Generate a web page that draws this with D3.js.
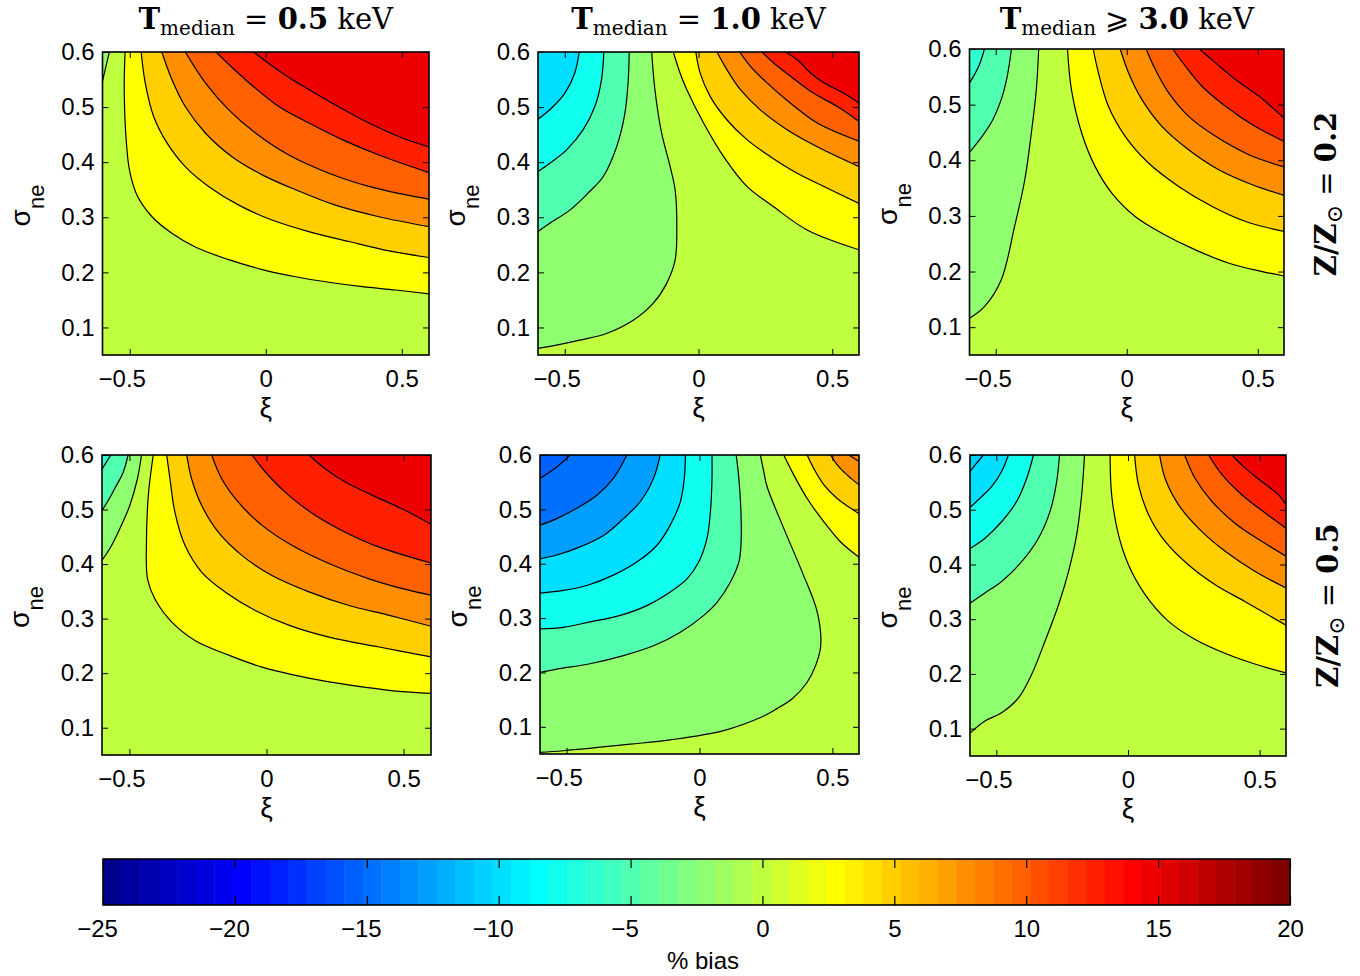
<!DOCTYPE html>
<html><head><meta charset="utf-8">
<script src="https://cdn.jsdelivr.net/npm/d3@7"></script>
<style>body{margin:0;background:#fff}svg{display:block}</style>
</head><body>
<svg id="chart" width="1360" height="976"></svg>
<script>
// ---------------- data ----------------
const xiDomain = [-0.6, 0.6];
const sigmaDomain = [0.05, 0.6];
const xiTicks = [-0.5, 0, 0.5];
const sigmaTicks = [0.1, 0.2, 0.3, 0.4, 0.5, 0.6];
const temperatureLabels = ["0.5", "1.0", "3.0"];
const temperatureRelations = ["=", "=", "\u2A7E"];
const metallicityLabels = ["0.2", "0.5"];
const colorbarDomain = [-25, 20];
const colorbarTicks = [-25, -20, -15, -10, -5, 0, 5, 10, 15, 20];
const baseLevel = 0; // % bias of the background region (0 .. 2.5)

// contour lines: lv = % bias of the enclosed region, pts = [xi, sigma]
const contoursT05Z02 = [
  {lv: -2.5, pts: [[-0.575,0.6],[-0.590,0.568],[-0.6,0.547]]},
  {lv: 2.5, pts: [[-0.517,0.6],[-0.520,0.550],[-0.519,0.501],[-0.513,0.441],[-0.501,0.386],[-0.474,0.341],[-0.418,0.301],[-0.345,0.271],[-0.259,0.246],[-0.136,0.223],[-0.013,0.205],[0.109,0.192],[0.232,0.182],[0.355,0.174],[0.477,0.168],[0.6,0.161]]},
  {lv: 5, pts: [[-0.458,0.6],[-0.443,0.544],[-0.412,0.483],[-0.363,0.435],[-0.296,0.392],[-0.210,0.356],[-0.099,0.322],[0.023,0.295],[0.158,0.274],[0.306,0.256],[0.453,0.239],[0.6,0.227]]},
  {lv: 7.5, pts: [[-0.382,0.6],[-0.345,0.550],[-0.296,0.501],[-0.222,0.453],[-0.124,0.410],[-0.013,0.377],[0.109,0.350],[0.256,0.322],[0.416,0.301],[0.6,0.283]]},
  {lv: 10, pts: [[-0.296,0.6],[-0.222,0.544],[-0.136,0.495],[-0.038,0.453],[0.085,0.413],[0.232,0.380],[0.379,0.356],[0.502,0.342],[0.6,0.333]]},
  {lv: 12.5, pts: [[-0.183,0.6],[-0.075,0.550],[0.048,0.501],[0.171,0.468],[0.281,0.441],[0.416,0.413],[0.6,0.381]]},
  {lv: 15, pts: [[-0.044,0.6],[0.060,0.562],[0.158,0.532],[0.256,0.504],[0.379,0.471],[0.502,0.444],[0.6,0.428]]}
];
const contoursT10Z02 = [
  {lv: -2.5, pts: [[-0.175,0.6],[-0.163,0.532],[-0.138,0.453],[-0.106,0.392],[-0.0875,0.350],[-0.081,0.283],[-0.0875,0.222],[-0.119,0.180],[-0.169,0.144],[-0.244,0.113],[-0.344,0.089],[-0.444,0.077],[-0.531,0.068],[-0.6,0.062]]},
  {lv: -5, pts: [[-0.259,0.6],[-0.2625,0.550],[-0.275,0.489],[-0.306,0.428],[-0.356,0.374],[-0.4125,0.344],[-0.481,0.313],[-0.556,0.289],[-0.6,0.274]]},
  {lv: -7.5, pts: [[-0.354,0.6],[-0.3625,0.550],[-0.3875,0.501],[-0.431,0.459],[-0.494,0.422],[-0.556,0.398],[-0.6,0.383]]},
  {lv: -10, pts: [[-0.446,0.6],[-0.4625,0.562],[-0.5,0.525],[-0.55,0.498],[-0.6,0.478]]},
  {lv: 2.5, pts: [[-0.094,0.6],[-0.069,0.562],[-0.044,0.532],[0.019,0.471],[0.094,0.410],[0.181,0.356],[0.281,0.319],[0.406,0.277],[0.6,0.241]]},
  {lv: 5, pts: [[-0.01,0.6],[0.006,0.562],[0.044,0.519],[0.106,0.477],[0.181,0.441],[0.269,0.410],[0.369,0.380],[0.469,0.356],[0.6,0.325]]},
  {lv: 7.5, pts: [[0.069,0.6],[0.106,0.568],[0.156,0.532],[0.231,0.495],[0.331,0.459],[0.444,0.428],[0.6,0.392]]},
  {lv: 10, pts: [[0.154,0.6],[0.194,0.574],[0.256,0.544],[0.344,0.507],[0.444,0.471],[0.6,0.438]]},
  {lv: 12.5, pts: [[0.2375,0.6],[0.281,0.580],[0.344,0.556],[0.431,0.525],[0.519,0.501],[0.6,0.474]]},
  {lv: 15, pts: [[0.325,0.6],[0.369,0.586],[0.419,0.562],[0.469,0.544],[0.544,0.525],[0.6,0.507]]}
];
const contoursT30Z02 = [
  {lv: -2.5, pts: [[-0.336,0.6],[-0.345,0.527],[-0.364,0.449],[-0.389,0.365],[-0.428,0.281],[-0.479,0.185],[-0.543,0.137],[-0.6,0.116]]},
  {lv: -5, pts: [[-0.440,0.6],[-0.456,0.551],[-0.479,0.509],[-0.511,0.473],[-0.555,0.441],[-0.6,0.414]]},
  {lv: -6.5, pts: [[-0.543,0.6],[-0.562,0.572],[-0.581,0.554],[-0.6,0.539]]},
  {lv: 2.5, pts: [[-0.226,0.6],[-0.211,0.527],[-0.172,0.449],[-0.121,0.389],[-0.057,0.341],[0.032,0.299],[0.134,0.269],[0.262,0.239],[0.390,0.215],[0.517,0.200],[0.6,0.192]]},
  {lv: 5, pts: [[-0.128,0.6],[-0.108,0.557],[-0.070,0.497],[-0.006,0.443],[0.083,0.395],[0.198,0.353],[0.326,0.317],[0.454,0.290],[0.6,0.272]]},
  {lv: 7.5, pts: [[-0.025,0.6],[0.007,0.557],[0.058,0.509],[0.134,0.461],[0.236,0.419],[0.351,0.383],[0.479,0.356],[0.6,0.337]]},
  {lv: 10, pts: [[0.074,0.6],[0.109,0.563],[0.160,0.521],[0.236,0.479],[0.339,0.443],[0.466,0.410],[0.6,0.388]]},
  {lv: 12.5, pts: [[0.175,0.6],[0.224,0.569],[0.287,0.533],[0.377,0.497],[0.479,0.464],[0.6,0.434]]},
  {lv: 15, pts: [[0.277,0.6],[0.339,0.575],[0.415,0.545],[0.505,0.515],[0.6,0.476]]}
];
const contoursT05Z05 = [
  {lv: -2.5, pts: [[-0.456,0.6],[-0.471,0.556],[-0.499,0.507],[-0.535,0.465],[-0.572,0.428],[-0.6,0.407]]},
  {lv: -5, pts: [[-0.505,0.6],[-0.523,0.568],[-0.554,0.538],[-0.578,0.516],[-0.6,0.498]]},
  {lv: -6.5, pts: [[-0.568,0.6],[-0.584,0.587],[-0.6,0.574]]},
  {lv: 2.5, pts: [[-0.413,0.6],[-0.431,0.526],[-0.438,0.434],[-0.434,0.373],[-0.407,0.336],[-0.346,0.294],[-0.261,0.260],[-0.138,0.233],[-0.016,0.211],[0.106,0.196],[0.228,0.184],[0.350,0.175],[0.472,0.167],[0.6,0.163]]},
  {lv: 5, pts: [[-0.364,0.6],[-0.352,0.556],[-0.334,0.495],[-0.297,0.434],[-0.236,0.385],[-0.151,0.349],[-0.041,0.315],[0.081,0.288],[0.228,0.266],[0.411,0.248],[0.6,0.230]]},
  {lv: 7.5, pts: [[-0.291,0.6],[-0.273,0.556],[-0.236,0.507],[-0.175,0.458],[-0.090,0.416],[0.020,0.379],[0.155,0.349],[0.301,0.324],[0.448,0.306],[0.6,0.286]]},
  {lv: 10, pts: [[-0.2,0.6],[-0.163,0.556],[-0.102,0.513],[-0.016,0.471],[0.094,0.434],[0.228,0.401],[0.374,0.373],[0.496,0.355],[0.6,0.343]]},
  {lv: 12.5, pts: [[-0.053,0.6],[0.008,0.562],[0.081,0.526],[0.179,0.489],[0.289,0.458],[0.411,0.431],[0.6,0.402]]},
  {lv: 15, pts: [[0.155,0.6],[0.216,0.574],[0.289,0.550],[0.387,0.526],[0.496,0.501],[0.6,0.473]]}
];
const contoursT10Z05 = [
  {lv: -2.5, pts: [[0.229,0.6],[0.242,0.569],[0.254,0.542],[0.317,0.465],[0.386,0.385],[0.443,0.311],[0.456,0.249],[0.437,0.213],[0.405,0.182],[0.350,0.152],[0.290,0.133],[0.229,0.117],[0.091,0.093],[-0.110,0.076],[-0.261,0.068],[-0.512,0.056],[-0.6,0.053]]},
  {lv: -5, pts: [[0.138,0.6],[0.148,0.557],[0.156,0.495],[0.156,0.434],[0.148,0.403],[0.116,0.366],[0.066,0.329],[0.016,0.305],[-0.072,0.274],[-0.173,0.249],[-0.286,0.231],[-0.412,0.216],[-0.537,0.206],[-0.6,0.200]]},
  {lv: -7.5, pts: [[0.047,0.6],[0.047,0.557],[0.041,0.495],[0.028,0.446],[-0.003,0.403],[-0.047,0.372],[-0.110,0.348],[-0.198,0.323],[-0.298,0.305],[-0.412,0.293],[-0.512,0.283],[-0.6,0.280]]},
  {lv: -10, pts: [[-0.053,0.6],[-0.057,0.557],[-0.072,0.514],[-0.110,0.471],[-0.160,0.434],[-0.236,0.403],[-0.324,0.379],[-0.424,0.360],[-0.512,0.351],[-0.6,0.346]]},
  {lv: -12.5, pts: [[-0.148,0.6],[-0.173,0.557],[-0.223,0.514],[-0.286,0.483],[-0.361,0.452],[-0.449,0.431],[-0.537,0.416],[-0.6,0.409]]},
  {lv: -15, pts: [[-0.273,0.6],[-0.324,0.557],[-0.386,0.526],[-0.462,0.502],[-0.537,0.483],[-0.6,0.471]]},
  {lv: -15.5, pts: [[-0.487,0.6],[-0.537,0.578],[-0.6,0.557]]},
  {lv: 2.5, pts: [[0.317,0.6],[0.355,0.563],[0.405,0.520],[0.468,0.477],[0.531,0.440],[0.6,0.412]]},
  {lv: 5, pts: [[0.405,0.6],[0.430,0.575],[0.468,0.545],[0.518,0.520],[0.569,0.502],[0.6,0.492]]},
  {lv: 7.5, pts: [[0.493,0.6],[0.518,0.582],[0.556,0.563],[0.6,0.545]]},
  {lv: 8.5, pts: [[0.562,0.6],[0.6,0.588]]}
];
const contoursT30Z05 = [
  {lv: -2.5, pts: [[-0.165,0.6],[-0.176,0.527],[-0.195,0.454],[-0.226,0.387],[-0.264,0.326],[-0.315,0.260],[-0.366,0.199],[-0.416,0.156],[-0.480,0.129],[-0.543,0.114],[-0.6,0.092]]},
  {lv: -5, pts: [[-0.260,0.6],[-0.271,0.551],[-0.296,0.497],[-0.340,0.448],[-0.404,0.405],[-0.480,0.369],[-0.543,0.348],[-0.6,0.329]]},
  {lv: -7.5, pts: [[-0.359,0.6],[-0.385,0.557],[-0.423,0.515],[-0.480,0.478],[-0.543,0.448],[-0.6,0.429]]},
  {lv: -10, pts: [[-0.454,0.6],[-0.480,0.570],[-0.518,0.542],[-0.562,0.521],[-0.6,0.504]]},
  {lv: -10.5, pts: [[-0.549,0.6],[-0.575,0.585],[-0.6,0.570]]},
  {lv: 2.5, pts: [[-0.068,0.6],[-0.062,0.527],[-0.036,0.454],[0.002,0.399],[0.065,0.345],[0.154,0.296],[0.255,0.263],[0.382,0.235],[0.509,0.214],[0.6,0.202]]},
  {lv: 5, pts: [[0.025,0.6],[0.040,0.545],[0.078,0.491],[0.141,0.442],[0.230,0.399],[0.331,0.363],[0.445,0.332],[0.6,0.289]]},
  {lv: 7.5, pts: [[0.120,0.6],[0.141,0.557],[0.192,0.509],[0.268,0.466],[0.369,0.424],[0.483,0.387],[0.6,0.357]]},
  {lv: 10, pts: [[0.215,0.6],[0.255,0.557],[0.319,0.515],[0.407,0.475],[0.509,0.442],[0.6,0.415]]},
  {lv: 12.5, pts: [[0.306,0.6],[0.357,0.564],[0.433,0.527],[0.521,0.494],[0.6,0.466]]},
  {lv: 15, pts: [[0.395,0.6],[0.445,0.576],[0.509,0.551],[0.572,0.527],[0.6,0.509]]}
];
const panelContours = [
  [contoursT05Z02, contoursT10Z02, contoursT30Z02],
  [contoursT05Z05, contoursT10Z05, contoursT30Z05]
];

// ---------------- layout ----------------
const panelRects = [
  [{x0:102.5,x1:429,y0:52,y1:355},{x0:538,x1:859,y0:52,y1:355},{x0:969.5,x1:1284,y0:49,y1:355}],
  [{x0:102,x1:431,y0:455,y1:755},{x0:540,x1:859,y0:455,y1:754},{x0:970,x1:1286,y0:455,y1:756}]
];
const SANS = "'Liberation Sans', Arial, Helvetica, sans-serif";
const SERIF = "'DejaVu Serif', 'Liberation Serif', serif";

// MATLAB jet(64)
function jetRow(k) {
  const n = 16, u = [];
  for (let i = 1; i <= n; i++) u.push(i / n);
  for (let i = 0; i < n - 1; i++) u.push(1);
  for (let i = n; i >= 1; i--) u.push(i / n);
  const get = off => { const i = k - off; return (i >= 1 && i <= u.length) ? u[i - 1] : 0; };
  return d3.rgb(Math.round(get(24) * 255), Math.round(get(8) * 255), Math.round(get(-8) * 255));
}
function jetColor(v) {
  let idx = Math.floor((v - colorbarDomain[0]) / (colorbarDomain[1] - colorbarDomain[0]) * 64) + 1;
  idx = Math.max(1, Math.min(64, idx));
  return jetRow(idx).formatHex();
}

const svg = d3.select("#chart");
const defs = svg.append("defs");

function drawPanel(r, c) {
  const rect = panelRects[r][c];
  const contours = panelContours[r][c];
  const x = d3.scaleLinear().domain(xiDomain).range([rect.x0, rect.x1]);
  const y = d3.scaleLinear().domain(sigmaDomain).range([rect.y1, rect.y0]);
  const [xmin, xmax] = xiDomain, [ymin, ymax] = sigmaDomain;
  const W = xmax - xmin, H = ymax - ymin;
  const clipId = `clip${r}${c}`;
  defs.append("clipPath").attr("id", clipId).append("rect")
    .attr("x", rect.x0).attr("y", rect.y0).attr("width", rect.x1 - rect.x0).attr("height", rect.y1 - rect.y0);
  const g = svg.append("g");
  const plot = g.append("g").attr("clip-path", `url(#${clipId})`);
  plot.append("rect").attr("x", rect.x0).attr("y", rect.y0)
    .attr("width", rect.x1 - rect.x0).attr("height", rect.y1 - rect.y0)
    .attr("fill", jetColor(baseLevel));

  function snap(p) {
    const d = [Math.abs(p[1] - ymax) / H, Math.abs(p[0] - xmax) / W, Math.abs(p[1] - ymin) / H, Math.abs(p[0] - xmin) / W];
    const e = d.indexOf(d3.min(d));
    const q = p.slice();
    if (e === 0) q[1] = ymax; else if (e === 1) q[0] = xmax; else if (e === 2) q[1] = ymin; else q[0] = xmin;
    let per;
    if (e === 0) per = (q[0] - xmin) / W;
    else if (e === 1) per = 1 + (ymax - q[1]) / H;
    else if (e === 2) per = 2 + (xmax - q[0]) / W;
    else per = 3 + (q[1] - ymin) / H;
    return {q, per};
  }
  const corners = [[xmin, ymax], [xmax, ymax], [xmax, ymin], [xmin, ymin]];
  const line = d3.line().x(d => x(d[0])).y(d => y(d[1])).curve(d3.curveCatmullRom.alpha(0.5));

  const prepared = contours.map(ct => {
    let pts = ct.pts.map(p => p.slice());
    if (ct.lv > baseLevel) pts.reverse();
    const s = snap(pts[0]), e = snap(pts[pts.length - 1]);
    pts[0] = s.q; pts[pts.length - 1] = e.q;
    let ps = s.per; const pe = e.per;
    if (ps <= pe) ps += 4;
    const extra = [];
    for (let k = Math.floor(pe) + 1; k < ps; k++) extra.push(corners[k % 4]);
    const path = line(pts) + extra.map(p => `L${x(p[0])},${y(p[1])}`).join("") + "Z";
    return {lv: ct.lv, pts, path};
  });

  plot.selectAll("path.fill").data(prepared).join("path")
    .attr("class", "fill").attr("d", d => d.path).attr("fill", d => jetColor(d.lv)).attr("stroke", "none");
  plot.selectAll("path.iso").data(prepared).join("path")
    .attr("class", "iso").attr("d", d => line(d.pts)).attr("fill", "none")
    .attr("stroke", "#000").attr("stroke-width", 1.2);

  // axes
  const fmtX = d => d === 0 ? "0" : d3.format(".1f")(d);
  const styleAxis = a => {
    a.select(".domain").remove();
    a.attr("font-size", 24).attr("font-family", SANS);
    a.selectAll("line").attr("stroke", "#000").attr("stroke-width", 1);
    a.selectAll("text").attr("fill", "#000");
  };
  g.append("g").attr("transform", `translate(0,${rect.y1})`)
    .call(d3.axisBottom(x).tickValues(xiTicks).tickSize(-6).tickPadding(15).tickFormat(fmtX)).call(styleAxis)
    .call(a => a.selectAll("text").attr("dx", d => d < 0 ? -8 : 0));
  g.append("g").attr("transform", `translate(0,${rect.y0})`)
    .call(d3.axisTop(x).tickValues(xiTicks).tickSize(-6).tickFormat("")).call(styleAxis);
  g.append("g").attr("transform", `translate(${rect.x0},0)`)
    .call(d3.axisLeft(y).tickValues(sigmaTicks).tickSize(-6).tickPadding(8).tickFormat(d3.format(".1f"))).call(styleAxis);
  g.append("g").attr("transform", `translate(${rect.x1},0)`)
    .call(d3.axisRight(y).tickValues(sigmaTicks).tickSize(-6).tickFormat("")).call(styleAxis);

  g.append("rect").attr("x", rect.x0).attr("y", rect.y0)
    .attr("width", rect.x1 - rect.x0).attr("height", rect.y1 - rect.y0)
    .attr("fill", "none").attr("stroke", "#000").attr("stroke-width", 1.6);

  // axis labels
  g.append("text").attr("x", x(0)).attr("y", rect.y1 + 62)
    .attr("text-anchor", "middle").attr("font-family", SANS).attr("font-size", 28).text("\u03BE");
  const yl = g.append("text")
    .attr("transform", `translate(${rect.x0 - 73},${(rect.y0 + rect.y1) / 2 + 2}) rotate(-90)`)
    .attr("text-anchor", "middle").attr("font-family", SANS).attr("font-size", 28);
  yl.append("tspan").text("\u03C3");
  yl.append("tspan").attr("font-size", 22).attr("dy", 14).text("ne");
}

for (let r = 0; r < 2; r++) for (let c = 0; c < 3; c++) drawPanel(r, c);

// titles
temperatureLabels.forEach((t, c) => {
  const rect = panelRects[0][c];
  const cx = (rect.x0 + rect.x1) / 2;
  const tx = svg.append("text").attr("x", cx).attr("y", 29).attr("text-anchor", "middle")
    .attr("font-family", SERIF).attr("font-size", 29).attr("fill", "#000");
  tx.append("tspan").attr("font-weight", "bold").text("T");
  tx.append("tspan").attr("font-size", 20).attr("dy", 6).text("median");
  tx.append("tspan").attr("dy", -6).text(" " + temperatureRelations[c] + " ");
  tx.append("tspan").attr("font-weight", "bold").text(t);
  tx.append("tspan").text(" keV");
});

// metallicity labels
metallicityLabels.forEach((m, r) => {
  const rect = panelRects[r][2];
  const cy = (rect.y0 + rect.y1) / 2 - (r === 0 ? 8 : 0);
  const tx = svg.append("text")
    .attr("transform", `translate(${rect.x1 + 52},${cy}) rotate(-90)`)
    .attr("text-anchor", "middle").attr("font-family", SERIF).attr("font-size", 29).attr("fill", "#000");
  tx.append("tspan").attr("font-weight", "bold").text("Z/Z");
  tx.append("tspan").attr("font-size", 22).attr("dy", 6).text("\u2299");
  tx.append("tspan").attr("dy", -6).text(" = ");
  tx.append("tspan").attr("font-weight", "bold").text(m);
});

// colorbar
const cb = {x0: 103, x1: 1290, y0: 859, y1: 905};
const cbx = d3.scaleLinear().domain(colorbarDomain).range([cb.x0, cb.x1]);
const bands = d3.range(64).map(i => ({
  v0: colorbarDomain[0] + i * (colorbarDomain[1] - colorbarDomain[0]) / 64,
  v1: colorbarDomain[0] + (i + 1) * (colorbarDomain[1] - colorbarDomain[0]) / 64,
  k: i + 1
}));
svg.append("g").selectAll("rect").data(bands).join("rect")
  .attr("x", d => cbx(d.v0)).attr("width", d => cbx(d.v1) - cbx(d.v0) + 0.5)
  .attr("y", cb.y0).attr("height", cb.y1 - cb.y0)
  .attr("fill", d => jetRow(d.k).formatHex());
const cbStyle = a => {
  a.select(".domain").remove();
  a.attr("font-size", 24).attr("font-family", SANS);
  a.selectAll("line").attr("stroke", "#000").attr("stroke-width", 1.2);
  a.selectAll("text").attr("fill", "#000");
};
svg.append("g").attr("transform", `translate(0,${cb.y1})`)
  .call(d3.axisBottom(cbx).tickValues(colorbarTicks).tickSize(-9).tickPadding(15).tickFormat(d3.format("d"))).call(cbStyle)
  .call(a => a.selectAll("text").attr("dx", d => d < 0 ? -6 : 0));
svg.append("g").attr("transform", `translate(0,${cb.y0})`)
  .call(d3.axisTop(cbx).tickValues(colorbarTicks).tickSize(-9).tickFormat("")).call(cbStyle);
svg.append("rect").attr("x", cb.x0).attr("y", cb.y0).attr("width", cb.x1 - cb.x0).attr("height", cb.y1 - cb.y0)
  .attr("fill", "none").attr("stroke", "#000").attr("stroke-width", 1.6);
svg.append("text").attr("x", 703).attr("y", 969).attr("text-anchor", "middle")
  .attr("font-family", SANS).attr("font-size", 24).attr("fill", "#000").text("% bias");
</script>
</body></html>
